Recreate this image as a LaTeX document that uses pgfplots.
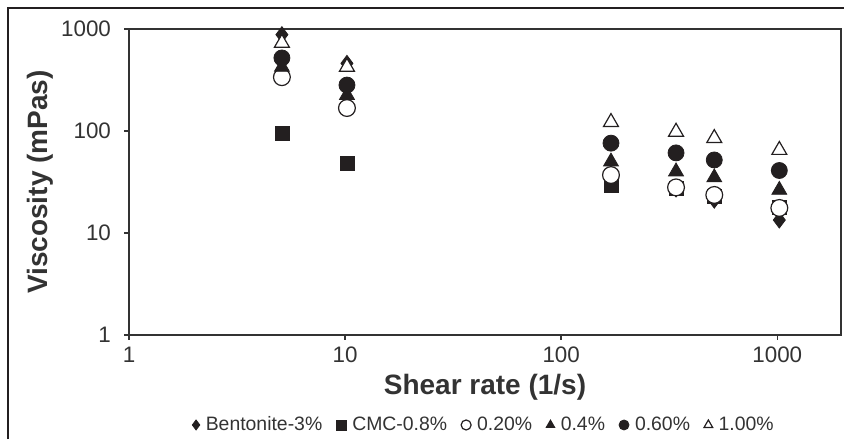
\documentclass[border=0pt]{standalone}
\usepackage{fontspec}
\setmainfont{Liberation Sans}
\usepackage{pgfplots}
\pgfplotsset{compat=1.18}
\definecolor{ink}{HTML}{231F20}
\definecolor{axisgray}{HTML}{333333}

\begin{document}
\begin{tikzpicture}
\begin{axis}[
  at={(0,0)}, anchor=south west,
  scale only axis,
  width=356pt, height=153pt,
  xmode=log, ymode=log,
  xmin=1, xmax=1972, ymin=1, ymax=1000,
  xtick={1,10,100,1000}, xticklabels={1,10,100,1000},
  ytick={1,10,100,1000}, yticklabels={1,10,100,1000},
  xminorticks=false, yminorticks=false,
  tick pos=left, tick align=outside,
  major tick length=2.5pt,
  axis line style={axisgray, line width=0.8pt},
  tick style={axisgray, line width=0.7pt},
  ticklabel style={font=\fontsize{11.2}{13}\selectfont, text=axisgray},
  yticklabel style={xshift=-3pt},
  every axis x label/.style={at={(axis description cs:0.5,-0.17)}, anchor=center},
  every axis y label/.style={at={(axis description cs:-0.125,0.5)}, rotate=90, anchor=center},
  label style={font=\fontsize{14}{16}\selectfont\bfseries, text=axisgray},
  xlabel={Shear rate (1/s)},
  ylabel={Viscosity (mPas)},
  legend columns=6,
  legend style={at={(0.5,-0.294)}, anchor=center, draw=none, fill=none,
    font=\fontsize{9.7}{11}\selectfont, text=axisgray,
    /tikz/every even column/.append style={column sep=5pt},
    /tikz/every odd column/.append style={column sep=1pt}},
  legend image code/.code={\draw[#1, mark size=2.5pt] plot coordinates {(0pt,0pt)};},
]
\addplot[only marks, mark=diamond*, mark size=4pt, ink, mark options={fill=ink}] coordinates {
  (5.1,880) (10.2,460) (170,33) (340,27) (511,21) (1022,13.4)
};
\addlegendentry{Bentonite-3\%}
\addplot[only marks, mark=square*, mark size=3.5pt, ink, mark options={fill=ink}] coordinates {
  (5.1,95) (10.2,48.5) (170,29.5) (340,27.5) (511,23) (1022,18)
};
\addlegendentry{CMC-0.8\%}
\addplot[only marks, mark=*, mark size=4.2pt, ink, mark options={fill=white, line width=0.6pt}] coordinates {
  (5.1,337) (10.2,168) (170,37) (340,28) (511,23.6) (1022,17.6)
};
\addlegendentry{0.20\%}
\addplot[only marks, mark=triangle*, mark size=4.3pt, ink, mark options={fill=ink}] coordinates {
  (5.1,424) (10.2,225) (170,50) (340,40) (511,35) (1022,26.4)
};
\addlegendentry{0.4\%}
\addplot[only marks, mark=*, mark size=4pt, ink, mark options={fill=ink}] coordinates {
  (5.1,520) (10.2,282) (170,76) (340,61) (511,52) (1022,41)
};
\addlegendentry{0.60\%}
\addplot[only marks, mark=triangle*, mark size=4.3pt, ink, mark options={fill=white, line width=0.6pt}] coordinates {
  (5.1,730) (10.2,425) (170,122) (340,98) (511,85) (1022,65)
};
\addlegendentry{1.00\%}
\end{axis}
\draw[ink, line width=0.7pt] (-60.5pt,-52pt) -- (-60.5pt,163.5pt) -- (357.5pt,163.5pt);
\pgfresetboundingbox
\useasboundingbox (-64.5pt,-52pt) rectangle (357.5pt,167.5pt);
\end{tikzpicture}
\end{document}
